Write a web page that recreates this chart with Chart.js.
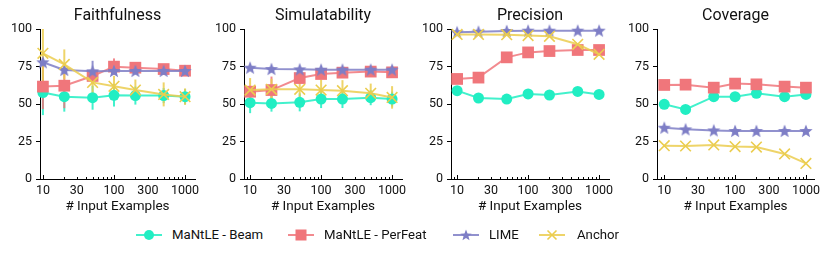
<!DOCTYPE html>
<html>
<head>
<meta charset="utf-8">
<script src="https://cdn.jsdelivr.net/npm/chart.js@4.4.1/dist/chart.umd.min.js"></script>
<style>
  html, body { margin: 0; padding: 0; background: #fff; width: 831px; height: 258px; overflow: hidden; }
  canvas { position: absolute; top: 0; }
  .leg { position: absolute; top: 226px; font-family: "Roboto", sans-serif; font-size: 13.2px; color: #111; line-height: 18px; white-space: nowrap; }
  .icon { position: absolute; top: 228px; }
</style>
</head>
<body>
<canvas id="c0" width="207" height="215" style="left:0px"></canvas>
<canvas id="c1" width="210" height="215" style="left:204px"></canvas>
<canvas id="c2" width="210" height="215" style="left:411px"></canvas>
<canvas id="c3" width="209" height="215" style="left:617px"></canvas>
<div id="legend"></div>
<script>
// ---------- data ----------
const xValues = [10, 20, 50, 100, 200, 500, 1000];
const xTickLabels = [10, 30, 100, 300, 1000];
const yTickValues = [0, 25, 50, 75, 100];
const seriesNames = ['MaNtLE - Beam', 'MaNtLE - PerFeat', 'LIME', 'Anchor'];
const panelTitles = ['Faithfulness', 'Simulatability', 'Precision', 'Coverage'];

const faithBeam    = [57.6, 54.9, 54.2, 55.8, 55.6, 55.6, 54.9];
const faithPerFeat = [61.6, 62.2, 68.7, 74.9, 74.2, 73.3, 72.2];
const faithLime    = [77.8, 72.7, 71.8, 72.0, 72.0, 72.0, 72.0];
const faithAnchor  = [83.8, 76.4, 64.4, 61.8, 59.3, 56.4, 54.9];
const faithBeamErr    = [15, 10, 8, 7.5, 6, 5, 5];
const faithPerFeatErr = [15, 15, 5, 5.5, 3, 2, 2];
const faithLimeErr    = [3, 2, 7, 2, 1, 1, 1];
const faithAnchorErr  = [25, 10, 8, 7, 7, 8, 5.5];

const simBeam    = [50.9, 50.4, 51.1, 53.3, 53.3, 54.2, 53.3];
const simPerFeat = [58.2, 59.3, 67.3, 70.0, 70.9, 71.6, 71.1];
const simLime    = [74.2, 73.3, 73.1, 72.9, 72.9, 72.9, 72.9];
const simAnchor  = [59.3, 59.8, 59.8, 59.3, 58.9, 57.1, 54.4];
const simBeamErr    = [7, 5.5, 6, 6, 6, 5, 5];
const simPerFeatErr = [4, 9, 3, 3, 2, 2, 2];
const simLimeErr    = [1, 1, 1, 1, 1, 1, 1];
const simAnchorErr  = [8, 7, 5, 7, 7, 6.5, 7.5];

const precBeam    = [58.9, 54.0, 53.3, 56.7, 56.0, 58.4, 56.4];
const precPerFeat = [66.7, 67.6, 81.1, 84.4, 85.3, 86.0, 86.0];
const precLime    = [97.8, 98.2, 98.7, 98.9, 98.9, 98.9, 98.9];
const precAnchor  = [96.4, 96.4, 96.2, 95.6, 95.1, 89.8, 83.1];

const covBeam    = [49.8, 46.4, 54.9, 54.9, 57.1, 54.9, 56.4];
const covPerFeat = [62.7, 62.9, 60.9, 63.6, 63.1, 61.6, 60.9];
const covLime    = [34.2, 33.1, 32.4, 32.0, 32.0, 32.0, 32.0];
const covAnchor  = [22.2, 22.0, 22.7, 21.6, 21.3, 16.7, 10.4];

// ---------- styling ----------
const FONT = '"Roboto"';
const colors = ['#21eec3', '#f0767b', '#7e7ec6', '#ebcd4f'];
const lineAlpha = ['rgba(33,238,195,0.85)', 'rgba(240,118,123,0.85)', 'rgba(126,126,198,0.85)', 'rgba(235,205,79,0.85)'];

function starCanvas(color, outer, inner) {
  const s = Math.ceil(outer * 2 + 2);
  const c = document.createElement('canvas');
  c.width = s; c.height = s;
  const g = c.getContext('2d');
  g.fillStyle = color;
  g.beginPath();
  for (let i = 0; i < 10; i++) {
    const r = i % 2 === 0 ? outer : inner;
    const a = -Math.PI / 2 + i * Math.PI / 5;
    const px = s / 2 + r * Math.cos(a), py = s / 2 + 0.5 + r * Math.sin(a);
    if (i === 0) g.moveTo(px, py); else g.lineTo(px, py);
  }
  g.closePath();
  g.fill();
  return c;
}
const starImg = starCanvas(colors[2], 7, 3);

const panels = [
  { series: [faithBeam, faithPerFeat, faithLime, faithAnchor], errs: [faithBeamErr, faithPerFeatErr, faithLimeErr, faithAnchorErr], xmin: 9.1, xmax: 1380 },
  { series: [simBeam, simPerFeat, simLime, simAnchor], errs: [simBeamErr, simPerFeatErr, simLimeErr, simAnchorErr], xmin: 8.2, xmax: 1380 },
  { series: [precBeam, precPerFeat, precLime, precAnchor], errs: null, xmin: 8.2, xmax: 1380 },
  { series: [covBeam, covPerFeat, covLime, covAnchor], errs: null, xmin: 7.9, xmax: 1300 }
];

// error bars drawn through the chart scales
const errorBarPlugin = {
  id: 'errorBars',
  beforeDatasetsDraw(chart) {
    const { ctx, chartArea, scales } = chart;
    ctx.save();
    ctx.beginPath();
    ctx.rect(chartArea.left, chartArea.top, chartArea.right - chartArea.left, chartArea.bottom - chartArea.top);
    ctx.clip();
    chart.data.datasets.forEach(ds => {
      if (!ds.errors) return;
      ctx.strokeStyle = ds.borderColor;
      ctx.lineWidth = 2;
      ds.data.forEach((p, i) => {
        const e = ds.errors[i];
        if (!e) return;
        const x = scales.x.getPixelForValue(p.x);
        ctx.beginPath();
        ctx.moveTo(x, scales.y.getPixelForValue(p.y - e));
        ctx.lineTo(x, scales.y.getPixelForValue(p.y + e));
        ctx.stroke();
      });
    });
    ctx.restore();
  }
};

// inward log ticks on the x axis
const minorTickPlugin = {
  id: 'minorTicks',
  afterDraw(chart) {
    const { ctx, chartArea, scales } = chart;
    const xs = scales.x;
    ctx.save();
    ctx.strokeStyle = '#000';
    ctx.lineWidth = 1;
    for (let dec = 1; dec <= 1000; dec *= 10) {
      for (let m = 1; m <= 9; m++) {
        const v = m * dec;
        if (v < xs.min || v > xs.max || v > 1000) continue;
        const x = Math.round(xs.getPixelForValue(v)) + 0.5;
        const len = m === 1 ? 4 : 2;
        ctx.beginPath();
        ctx.moveTo(x, chartArea.bottom);
        ctx.lineTo(x, chartArea.bottom - len);
        ctx.stroke();
      }
    }
    ctx.restore();
  }
};

const pointStyles = ['circle', 'rect', starImg, 'crossRot'];
const pointRadii = [5.5, 8.3, 7, 7.5];

panels.forEach((pn, k) => {
  const datasets = pn.series.map((vals, s) => ({
    label: seriesNames[s],
    data: xValues.map((x, i) => ({ x: x, y: vals[i] })),
    errors: pn.errs ? pn.errs[s] : null,
    borderColor: lineAlpha[s],
    backgroundColor: colors[s],
    pointBackgroundColor: colors[s],
    pointBorderColor: colors[s],
    pointBorderWidth: s === 3 ? 1.6 : 0,
    pointStyle: pointStyles[s],
    pointRadius: pointRadii[s],
    borderWidth: 2,
    tension: 0,
    clip: false,
    order: 4 - s
  }));
  new Chart(document.getElementById('c' + k), {
    type: 'line',
    data: { datasets },
    options: {
      responsive: false,
      animation: false,
      events: [],
      layout: { padding: { left: 0, right: 12, top: 0, bottom: 0 } },
      plugins: {
        legend: { display: false },
        tooltip: { enabled: false },
        title: {
          display: true, text: panelTitles[k], color: '#111', fullSize: false,
          font: { family: FONT, size: 16, weight: 'normal' },
          padding: { top: 6.5, bottom: 3.3 }
        }
      },
      scales: {
        x: {
          type: 'logarithmic',
          min: pn.xmin, max: pn.xmax,
          afterBuildTicks: sc => { sc.ticks = xTickLabels.map(v => ({ value: v })); },
          afterFit: sc => { sc.height = 36; },
          grid: { display: false, drawTicks: false },
          border: { display: true, color: '#000', width: 1 },
          ticks: {
            autoSkip: false, maxRotation: 0, padding: 4, color: '#111',
            font: { family: FONT, size: 12.5 },
            callback: v => String(v)
          },
          title: {
            display: true, text: '# Input Examples', color: '#111',
            font: { family: FONT, size: 13.5 },
            padding: { top: 0, bottom: 0 }
          }
        },
        y: {
          min: 0, max: 100,
          afterBuildTicks: sc => { sc.ticks = yTickValues.map(v => ({ value: v })); },
          afterFit: sc => { sc.width = 40; },
          grid: { drawOnChartArea: false, drawTicks: true, tickLength: 4, color: '#000' },
          border: { display: true, color: '#000', width: 1 },
          ticks: { padding: 4, color: '#111', font: { family: FONT, size: 12.5 } }
        }
      }
    },
    plugins: [errorBarPlugin, minorTickPlugin]
  });
});

// ---------- legend ----------
const legendIconLeft = [136, 288, 453, 539];
const legendTextLeft = [172, 324, 489, 577];
const legend = document.getElementById('legend');
function markerSvg(s) {
  const c = colors[s];
  if (s === 0) return `<circle cx="13" cy="7" r="5" fill="${c}"/>`;
  if (s === 1) return `<rect x="7.5" y="1.5" width="11" height="11" fill="${c}"/>`;
  if (s === 2) {
    let pts = [];
    for (let i = 0; i < 10; i++) {
      const r = i % 2 === 0 ? 6 : 2.6;
      const a = -Math.PI / 2 + i * Math.PI / 5;
      pts.push((13 + r * Math.cos(a)).toFixed(2) + ',' + (7.5 + r * Math.sin(a)).toFixed(2));
    }
    return `<polygon points="${pts.join(' ')}" fill="${c}"/>`;
  }
  return `<path d="M8.5 2.5 L17.5 11.5 M17.5 2.5 L8.5 11.5" stroke="${c}" stroke-width="1.6"/>`;
}
seriesNames.forEach((name, s) => {
  const icon = document.createElement('div');
  icon.className = 'icon';
  icon.style.left = legendIconLeft[s] + 'px';
  icon.innerHTML = `<svg width="26" height="14"><line x1="0" y1="7" x2="26" y2="7" stroke="${lineAlpha[s]}" stroke-width="2"/>${markerSvg(s)}</svg>`;
  legend.appendChild(icon);
  const t = document.createElement('div');
  t.className = 'leg';
  t.style.left = legendTextLeft[s] + 'px';
  t.textContent = name;
  legend.appendChild(t);
});
</script>
</body>
</html>
